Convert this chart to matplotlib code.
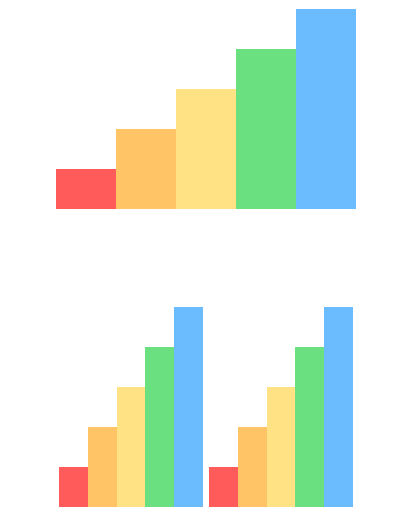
import matplotlib
matplotlib.use('Agg')
import matplotlib.pyplot as plt

# data
categories = ['A', 'B', 'C', 'D', 'E']
values = [1, 2, 3, 4, 5]
colors = ['#ff5b5b', '#fec466', '#fee283', '#6ae081', '#6bbcff']

W, H = 405, 530
fig = plt.figure(figsize=(W / 100, H / 100), dpi=100)
fig.patch.set_facecolor('white')

def px_axes(x0, y0, x1, y1):
    # pixel box (top-left origin) -> figure fraction
    return fig.add_axes([x0 / W, (H - y1) / H, (x1 - x0) / W, (y1 - y0) / H])

boxes = [(56, 9, 356, 209), (59, 307, 203, 507), (209, 307, 353, 507)]

for b in boxes:
    ax = px_axes(*b)
    ax.bar(range(len(categories)), values, width=1.0, color=colors, linewidth=0)
    ax.set_xlim(-0.5, len(categories) - 0.5)
    ax.set_ylim(0, max(values))
    ax.axis('off')

fig.savefig('out.png', dpi=100)
